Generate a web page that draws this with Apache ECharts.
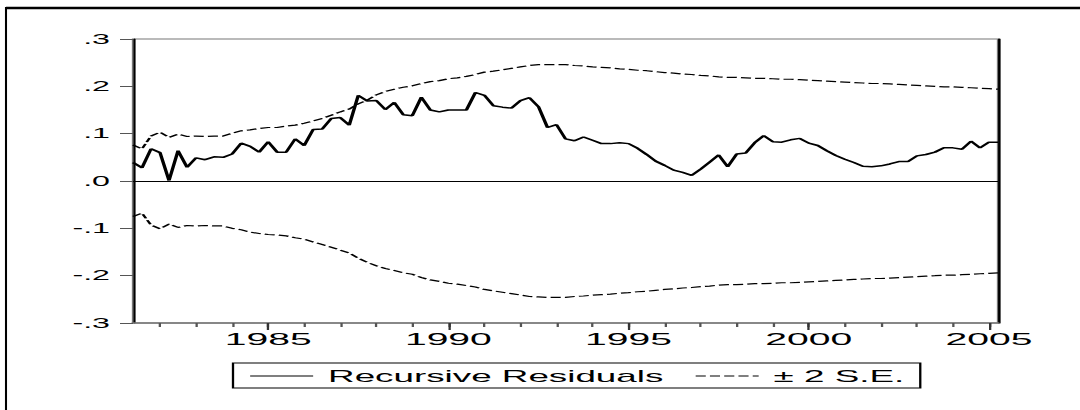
<!DOCTYPE html>
<html><head><meta charset="utf-8">
<script src="https://cdn.jsdelivr.net/npm/echarts@6/dist/echarts.min.js"></script>
<style>
html,body{margin:0;padding:0;width:1080px;height:410px;overflow:hidden;background:#fff}
#c{height:410px;transform-origin:0 0;}
</style></head><body><div id="c"></div>
<script>
// ---- data (quarterly, 1981Q2 .. 2005Q2) ----
const startYear = 1981, startQuarter = 2, endYear = 2005, endQuarter = 2;
const yearLabels = ['1985', '1990', '1995', '2000', '2005'];
const residuals = [
  0.039, 0.028, 0.068, 0.060, 0.001, 0.064, 0.029, 0.049, 0.045, 0.051,
  0.050, 0.057, 0.080, 0.073, 0.061, 0.083, 0.061, 0.061, 0.089, 0.075,
  0.109, 0.110, 0.132, 0.134, 0.118, 0.181, 0.169, 0.170, 0.151, 0.166,
  0.140, 0.138, 0.177, 0.150, 0.146, 0.150, 0.150, 0.150, 0.187, 0.181,
  0.159, 0.156, 0.154, 0.170, 0.176, 0.157, 0.113, 0.119, 0.089, 0.085,
  0.093, 0.086, 0.079, 0.079, 0.081, 0.079, 0.069, 0.056, 0.042, 0.033,
  0.023, 0.018, 0.012, 0.025, 0.040, 0.055, 0.030, 0.057, 0.059, 0.081,
  0.096, 0.083, 0.082, 0.087, 0.090, 0.080, 0.075, 0.064, 0.054, 0.046,
  0.039, 0.031, 0.030, 0.032, 0.036, 0.041, 0.041, 0.053, 0.056, 0.061,
  0.070, 0.070, 0.067, 0.084, 0.070, 0.082, 0.082
];
const upperBand = [
  0.076, 0.068, 0.095, 0.103, 0.092, 0.099, 0.094, 0.095, 0.094, 0.095,
  0.095, 0.101, 0.106, 0.108, 0.111, 0.113, 0.113, 0.116, 0.118, 0.122,
  0.127, 0.132, 0.139, 0.146, 0.152, 0.163, 0.171, 0.182, 0.189, 0.194,
  0.198, 0.201, 0.206, 0.210, 0.212, 0.216, 0.218, 0.221, 0.225, 0.230,
  0.232, 0.235, 0.238, 0.241, 0.244, 0.246, 0.246, 0.246, 0.246, 0.244,
  0.243, 0.241, 0.240, 0.239, 0.237, 0.236, 0.234, 0.233, 0.231, 0.229,
  0.228, 0.226, 0.225, 0.223, 0.222, 0.220, 0.219, 0.219, 0.218, 0.217,
  0.217, 0.216, 0.215, 0.215, 0.214, 0.213, 0.212, 0.211, 0.210, 0.209,
  0.208, 0.207, 0.206, 0.206, 0.205, 0.204, 0.203, 0.202, 0.201, 0.200,
  0.199, 0.199, 0.198, 0.197, 0.196, 0.195, 0.194
];
const lowerBand = [
  -0.075, -0.068, -0.093, -0.101, -0.091, -0.098, -0.094, -0.095, -0.094, -0.095,
  -0.095, -0.100, -0.103, -0.108, -0.111, -0.113, -0.114, -0.116, -0.120, -0.123,
  -0.129, -0.134, -0.140, -0.146, -0.152, -0.163, -0.172, -0.179, -0.185, -0.189,
  -0.194, -0.197, -0.204, -0.209, -0.212, -0.216, -0.218, -0.221, -0.224, -0.229,
  -0.232, -0.235, -0.238, -0.241, -0.244, -0.245, -0.246, -0.246, -0.246, -0.244,
  -0.243, -0.241, -0.240, -0.239, -0.237, -0.236, -0.234, -0.233, -0.231, -0.229,
  -0.228, -0.226, -0.225, -0.223, -0.222, -0.220, -0.219, -0.219, -0.218, -0.217,
  -0.217, -0.216, -0.215, -0.215, -0.214, -0.213, -0.212, -0.211, -0.210, -0.209,
  -0.208, -0.207, -0.206, -0.206, -0.205, -0.204, -0.203, -0.202, -0.201, -0.200,
  -0.199, -0.199, -0.198, -0.197, -0.196, -0.195, -0.194
];

// quarterly category labels
const categories = [];
for (let y = startYear, q = startQuarter; y < endYear || (y === endYear && q <= endQuarter);) {
  categories.push(y + 'Q' + q);
  q++; if (q > 4) { q = 1; y++; }
}

// ---- layout (horizontal stretch like the reference) ----
const K = 2.3;
const W = 1080 / K;
const el = document.getElementById('c');
el.style.width = W + 'px';
el.style.transform = 'scaleX(' + K + ')';

const FONT = 'Liberation Sans, Arial, Helvetica, sans-serif';
const isYearTick = (i, v) => v.endsWith('Q1');
const isMajor = (i, v) => v.endsWith('Q1') && yearLabels.indexOf(v.slice(0, 4)) >= 0;
const dash = [4.4, 1.8];

const chart = echarts.init(el, null, { renderer: 'svg', width: W, height: 410 });
chart.setOption({
  animation: false,
  backgroundColor: '#fff',
  grid: {
    left: 133 / K, right: (1080 - 998) / K, top: 39, bottom: 410 - 323,
    show: true, borderColor: '#777', borderWidth: 1, backgroundColor: 'transparent'
  },
  legend: {
    left: 233 / K, top: 363,
    data: ['Recursive Residuals', '± 2 S.E.'],
    borderColor: '#000', borderWidth: 1, padding: [5, 16 / K, 4, 16 / K],
    itemWidth: 63 / K, itemHeight: 12, itemGap: 31 / K,
    itemStyle: { opacity: 0, color: 'rgba(0,0,0,0)', borderWidth: 0 },
    lineStyle: { width: 1 },
    textStyle: { fontFamily: FONT, fontSize: 16, color: '#000', padding: [0, 0, 0, 1.5] },
    selectedMode: false
  },
  xAxis: [{
    type: 'category', data: categories, boundaryGap: false,
    axisLine: { onZero: false, lineStyle: { color: '#777', width: 1.5 } },
    axisTick: { show: true, interval: isYearTick, length: 4, lineStyle: { color: '#555', width: 1 } },
    axisLabel: {
      interval: isMajor, formatter: v => v.slice(0, 4),
      fontFamily: FONT, fontSize: 17, color: '#000', margin: 8
    },
    splitLine: { show: false }
  }, {
    type: 'category', data: categories, boundaryGap: false, position: 'bottom',
    axisLine: { show: false, onZero: false },
    axisTick: { show: true, interval: isMajor, length: 7, lineStyle: { color: '#333', width: 1 } },
    axisLabel: { show: false }, splitLine: { show: false }
  }],
  yAxis: [{
    type: 'value', min: -0.3, max: 0.3, interval: 0.1, position: 'left',
    axisLine: { show: true, lineStyle: { color: '#000', width: 0.9 } },
    axisTick: { show: true, length: 13 / K, lineStyle: { color: '#555', width: 1 } },
    axisLabel: {
      fontFamily: FONT, fontSize: 14, color: '#000', margin: 23 / K,
      formatter: v => { const s = (Math.round(v * 10) / 10).toFixed(1); return s.replace('0.', '.'); }
    },
    splitLine: { show: false }
  }, {
    type: 'value', min: -0.3, max: 0.3, interval: 0.1, position: 'right',
    axisLine: { show: true, lineStyle: { color: '#000', width: 1.1 } },
    axisTick: { show: false }, axisLabel: { show: false }, splitLine: { show: false }
  }],
  graphic: [
    { type: 'line', shape: { x1: 6 / K, y1: 8, x2: W + 10, y2: 8 }, style: { stroke: '#000', lineWidth: 2.5 } },
    { type: 'line', shape: { x1: 6 / K, y1: 7, x2: 6 / K, y2: 420 }, style: { stroke: '#000', lineWidth: 0.9 } }
  ],
  series: [{
    name: 'Recursive Residuals', type: 'line', data: residuals,
    symbol: 'none', lineStyle: { color: '#000', width: 1.5 }, itemStyle: { color: '#000' },
    markLine: {
      silent: true, symbol: 'none', label: { show: false },
      lineStyle: { color: '#000', width: 1, type: 'solid' },
      data: [{ yAxis: 0 }]
    },
    z: 3
  }, {
    name: '± 2 S.E.', type: 'line', data: upperBand,
    symbol: 'none', lineStyle: { color: '#000', width: 1.2, type: dash }, itemStyle: { color: '#000' }
  }, {
    name: '± 2 S.E.', type: 'line', data: lowerBand,
    symbol: 'none', lineStyle: { color: '#000', width: 1.2, type: dash }, itemStyle: { color: '#000' }
  }]
});
</script></body></html>
